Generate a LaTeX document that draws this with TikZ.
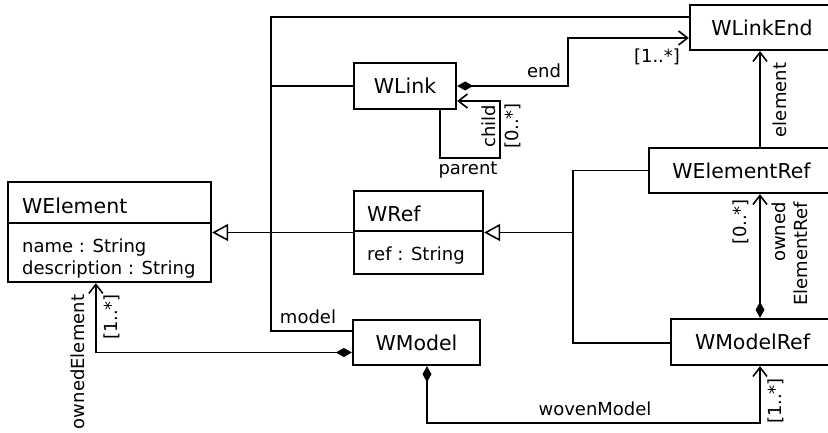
\documentclass[tikz,border=0pt]{standalone}
\usepackage{fontspec}
\setmainfont{DejaVu Sans}
\usetikzlibrary{arrows.meta,positioning,calc}

\begin{document}
\begin{tikzpicture}[
  every node/.style={font=\fontsize{18}{22}\selectfont,inner sep=0pt},
  cls/.style={draw,line width=2.3pt,fill=white,
              font=\fontsize{20.5}{24}\selectfont},
  ttl/.style={anchor=base west,font=\fontsize{20.5}{24}\selectfont},
  att/.style={anchor=base west},
  sep/.style={line width=2pt},
  ln/.style ={line width=1.6pt},
  gen/.style={ln,-{Triangle[open,length=16pt,width=17pt]}},
  cmp/.style={ln,{Diamond[length=16pt,width=9pt]}-{Straight Barb[length=9pt,width=14pt]}},
  nav/.style={ln,-{Straight Barb[length=9pt,width=14pt]}},
  vl/.style ={rotate=90},
  x=1pt,y=-1pt]

  \path[use as bounding box,fill=white] (0,0) rectangle (828,433);

  % --- classes, right-hand column runs past the page edge
  \node[cls,minimum width=144pt,minimum height=45pt] (linkend) at (762,27.5) {WLinkEnd};
  \node[cls,minimum width=102pt,minimum height=46pt] (wlink)   at (405,86)   {WLink};
  \node[cls,minimum width=185pt,minimum height=45pt] (elemref) at (741.5,170.5) {WElementRef};
  \node[cls,minimum width=127pt,minimum height=45pt] (wmodel)  at (416.5,342.5) {WModel};
  \node[cls,minimum width=163pt,minimum height=46pt] (modelref) at (752.5,342) {WModelRef};

  % --- classes with an attribute compartment
  \node[cls,minimum width=203pt,minimum height=100pt] (welement) at (109.5,232) {};
    \node[ttl] (welement-t) at (22,214) {WElement};
    \draw[sep] ($(welement.north west)+(0,42)$) -- ($(welement.north east)+(0,42)$);
    \node[att] (welement-a1) at (22,252) {name : String};
    \node[att] (welement-a2) at (22,274) {description : String};
  \node[cls,minimum width=129pt,minimum height=83pt] (wref) at (418.5,232.5) {};
    \node[ttl] (wref-t) at (367,222) {WRef};
    \draw[sep] ($(wref.north west)+(0,41)$) -- ($(wref.north east)+(0,41)$);
    \node[att] (wref-a1) at (367,260) {ref : String};

  % --- generalization trees
  \coordinate (trunkA) at (271,17);
  \coordinate (trunkB) at (271,331);
  \draw[ln] (trunkA -| linkend.west) -- (trunkA) -- (trunkB) -- (trunkB -| wmodel.west);
  \draw[ln] (wlink.west -| trunkA) -- (wlink.west);
  \draw[gen] (wref.west) -- (wref.west -| welement.east);
    \node[anchor=base] (lmodel) at (308,323) {model};
  \coordinate (trunkC) at (573,343);
  \draw[ln] (elemref.west) -- (elemref.west -| trunkC) -- (trunkC) -- (trunkC -| modelref.west);
  \draw[gen] (trunkC |- wref.east) -- (wref.east);

  % --- associations
  \coordinate (rcol) at (760,0);
  \draw[cmp] (wlink.east) -- ++(111,0) |- ($(linkend.west)+(0,10.5)$);
    \node[anchor=base] (lend) at (544,78) {end};
    \node[anchor=base] (lendm) at (657,63) {[1..*]};
  \draw[nav] ($(wlink.south)+(35,0)$) -- ++(0,48) -| ($(wlink.east)+(43,15)$)
             -- ($(wlink.east)+(0,15)$);
    \node[vl] (lchild) at (489,126) {child};
    \node[vl] (lchildm) at (513,126) {[0..*]};
    \node (lparent) at (468,170) {parent};
  \draw[cmp] ($(wmodel.west)+(0,10)$) -| ($(welement.south west)+(89,0)$);
    \node[vl] (lowned) at (78,362) {ownedElement};
    \node[vl] (lownedm) at (112,317) {[1..*]};
  \draw[cmp] ($(wmodel.south)+(10.5,0)$) -- ++(0,57) -| (modelref.south -| rcol);
    \node[anchor=base] (lwoven) at (595,415) {wovenModel};
    \node[vl] (lwovenm) at (776,401) {[1..*]};
  \draw[cmp] (modelref.north -| rcol) -- (elemref.south -| rcol);
    \node[vl] (loerm) at (741,222) {[0..*]};
    \node[vl,align=right] (loer) at (790,254) {owned\\ElementRef};
  \draw[nav] (elemref.north -| rcol) -- (linkend.south -| rcol);
    \node[vl] (lelem) at (780,100) {element};
\end{tikzpicture}
\end{document}
